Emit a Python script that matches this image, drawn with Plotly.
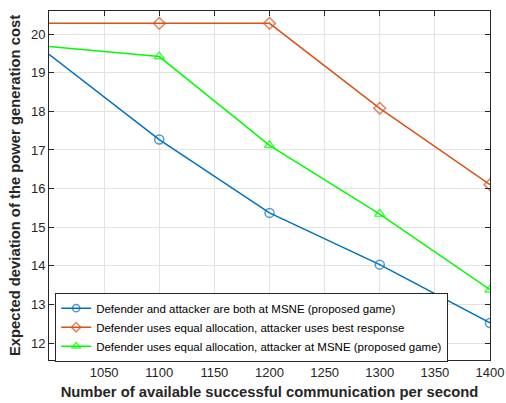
import plotly.graph_objects as go

x_vals = [1000, 1100, 1200, 1300, 1400]
msne_both = [19.48, 17.27, 15.37, 14.03, 12.52]
equal_best = [20.28, 20.28, 20.28, 18.08, 16.10]
equal_msne = [19.68, 19.42, 17.12, 15.34, 13.38]

names = [
    "Defender and attacker are both at MSNE (proposed game)",
    "Defender uses equal allocation, attacker uses best response",
    "Defender uses equal allocation, attacker at MSNE (proposed game)",
]
x_ticks = [1050, 1100, 1150, 1200, 1250, 1300, 1350, 1400]
y_ticks = [12, 13, 14, 15, 16, 17, 18, 19, 20]

fig = go.Figure()
styles = [
    ("#0072BD", "circle-open", msne_both),
    ("#D95319", "diamond-open", equal_best),
    ("#00FF00", "triangle-up-open", equal_msne),
]
for (color, sym, ys), name in zip(styles, names):
    fig.add_trace(go.Scatter(
        x=x_vals, y=ys, name=name, mode="lines+markers",
        line=dict(color=color, width=1.5),
        marker=dict(symbol=sym, size=[0, 9, 9, 9, 9], color=color,
                    line=dict(color=color, width=1.5)),
        cliponaxis=True,
    ))

FONT = "Liberation Sans, Arial"
axis_common = dict(
    showline=True, linecolor="#262626", linewidth=1, mirror="ticks",
    ticks="inside", ticklen=5, tickcolor="#262626",
    showgrid=True, gridcolor="#E3E3E3", gridwidth=1, zeroline=False,
    automargin=False,
    tickfont=dict(family=FONT, size=13, color="#262626"),
)
fig.update_xaxes(range=[1000, 1400], tickvals=x_ticks,
                 title=dict(text="<b>Number of available successful communication per second</b>",
                            font=dict(family=FONT, size=14.8, color="#262626"),
                            standoff=8),
                 **axis_common)
fig.update_yaxes(range=[11.56, 20.6], tickvals=y_ticks,
                 title=dict(text="<b>Expected deviation of the power generation cost</b>",
                            font=dict(family=FONT, size=14.8, color="#262626"),
                            standoff=6),
                 **axis_common)
fig.update_layout(
    width=506, height=403,
    margin=dict(l=49, r=16, t=11, b=43),
    paper_bgcolor="white", plot_bgcolor="white",
    showlegend=True,
    legend=dict(x=0.014, y=0.193, xanchor="left", yanchor="top",
                bgcolor="white", bordercolor="#262626", borderwidth=1,
                font=dict(family=FONT, size=11.5, color="#000000"),
                tracegroupgap=0, itemwidth=30),
)
fig.write_html("out.html", config={"displayModeBar": False},
               post_script="document.body.style.margin='0';")
